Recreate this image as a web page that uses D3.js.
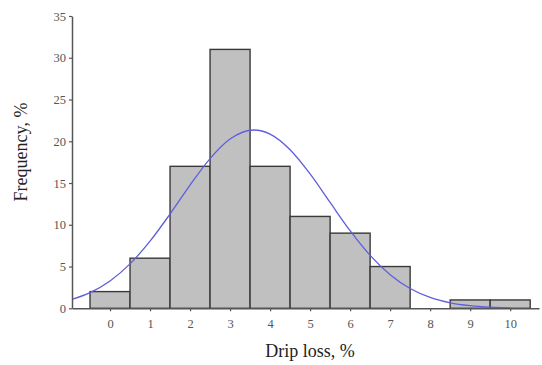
<!DOCTYPE html>
<html>
<head>
<meta charset="utf-8">
<script src="https://cdn.jsdelivr.net/npm/d3@7"></script>
<style>
  html, body { margin: 0; padding: 0; background: #fff; }
  svg { display: block; }
</style>
</head>
<body>
<svg id="chart" width="542" height="365"></svg>
<script>
// Data
const categories = [0, 1, 2, 3, 4, 5, 6, 7, 8, 9, 10];
const frequency  = [2, 6, 17, 31, 17, 11, 9, 5, 0, 1, 1];
const yTicks = [0, 5, 10, 15, 20, 25, 30, 35];
// fitted normal curve
const curveX = [-0.95, -0.5, 0, 0.5, 1, 1.5, 2, 2.5, 3, 3.6, 4, 4.5, 5, 5.5, 6, 6.5, 7, 7.5, 8, 8.5, 9, 9.5, 10];
const curveY = [1.07, 1.88, 3.28, 5.32, 8.04, 11.29, 14.75, 17.93, 20.27, 21.35, 20.86, 18.99, 16.09, 12.67, 9.29, 6.33, 4.02, 2.37, 1.30, 0.66, 0.32, 0.14, 0.06];

const svg = d3.select("#chart");
const x = d3.scaleLinear().domain([-0.95, 10.72]).range([72, 539]);
const y = d3.scaleLinear().domain([0, 35]).range([308.3, 16]);
const font = "'Liberation Serif', 'Times New Roman', serif";
const axisColor = "#555";

// bars
svg.append("g").selectAll("rect")
  .data(categories.map((c, i) => ({c, v: frequency[i]})).filter(d => d.v > 0))
  .join("rect")
  .attr("x", d => x(d.c - 0.5))
  .attr("width", d => x(d.c + 0.5) - x(d.c - 0.5))
  .attr("y", d => y(d.v))
  .attr("height", d => y(0) - y(d.v))
  .attr("fill", "#c0c0c0")
  .attr("stroke", "#3a3a3a")
  .attr("stroke-width", 1.4);

// curve
const pts = curveX.map((v, i) => [v, curveY[i]]);
svg.append("path")
  .datum(pts)
  .attr("d", d3.line().x(d => x(d[0])).y(d => y(d[1])).curve(d3.curveMonotoneX))
  .attr("fill", "none")
  .attr("stroke", "#5e5ede")
  .attr("stroke-width", 1.3);

// y axis
const yAxis = svg.append("g")
  .attr("transform", `translate(${x.range()[0]},0)`)
  .call(d3.axisLeft(y).tickValues(yTicks).tickSize(3).tickPadding(3).tickSizeOuter(0));
// x axis
const xAxis = svg.append("g")
  .attr("transform", `translate(0,${y(0)})`)
  .call(d3.axisBottom(x).tickValues(categories).tickSize(3).tickPadding(8).tickSizeOuter(0));

[yAxis, xAxis].forEach(g => {
  g.select(".domain").attr("stroke", axisColor).attr("stroke-width", 1.5);
  g.selectAll(".tick line").attr("stroke", axisColor).attr("stroke-width", 1.2);
  g.selectAll(".tick text").attr("fill", "#555").style("font-family", font).style("font-size", "12.5px");
});

// axis titles
svg.append("text")
  .attr("x", 310).attr("y", 357)
  .attr("text-anchor", "middle")
  .style("font-family", font).style("font-size", "18px").attr("fill", "#222")
  .text("Drip loss, %");
svg.append("text")
  .attr("transform", "translate(27,152) rotate(-90)")
  .attr("text-anchor", "middle")
  .style("font-family", font).style("font-size", "18px").attr("fill", "#222")
  .text("Frequency, %");
</script>
</body>
</html>
